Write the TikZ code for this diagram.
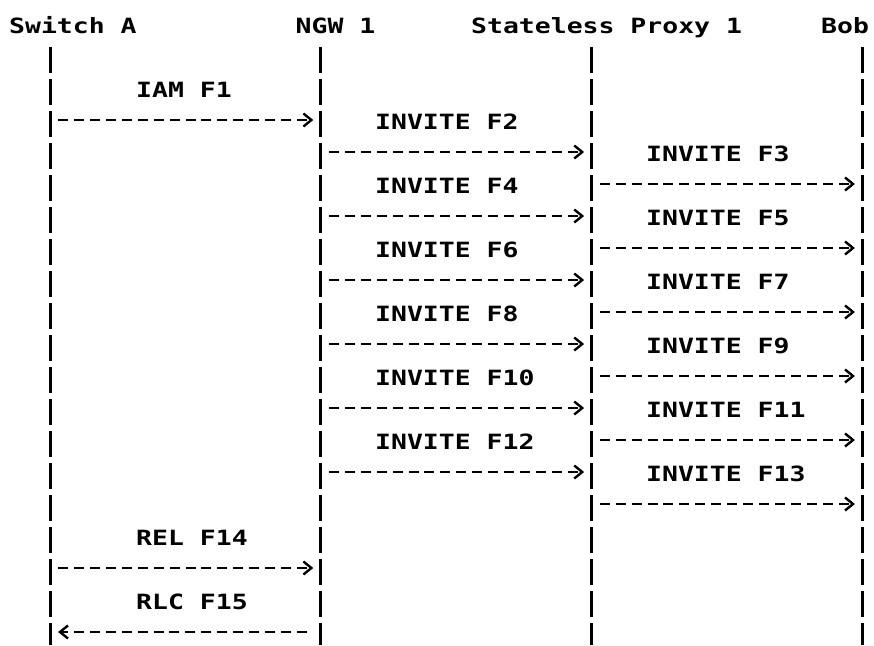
\documentclass[tikz,border=0pt]{standalone}
\usepackage{fontspec}
\usetikzlibrary{arrows.meta}
\newfontfamily\flowfont[FakeStretch=1.26]{DejaVu Sans Mono}
\tikzset{
  txt/.style={anchor=base west, inner sep=0pt, font=\flowfont\bfseries\fontsize{21}{21}\selectfont},
  party/.style={txt}, lbl/.style={txt},
  life/.style={line width=3pt, dash pattern=on 26pt off 6pt},
  msg/.style={line width=2.4pt, dash pattern=on 10pt off 5.93pt, shorten <=8pt, shorten >=7.6pt,
    -{Straight Barb[length=8pt, width=13pt, line width=2.4pt]}},
  back/.style={msg, shorten <=14pt, shorten >=8pt},
}

\begin{document}
\begin{tikzpicture}[x=1pt, y=-1pt]
    \useasboundingbox (0,0) rectangle (874,645);
    \node[party] (sw) at (9,33) {Switch A};
    \node[party] (ngw) at (295.5,33) {NGW 1};
    \node[party] (prx) at (471,33) {Stateless Proxy 1};
    \node[party] (bob) at (821,33) {Bob};
    \coordinate (swT) at (50.1,47);
    \coordinate (swB) at (50.1,645);
    \coordinate (ngwT) at (320.9,47);
    \coordinate (ngwB) at (320.9,645);
    \coordinate (prxT) at (591.7,47);
    \coordinate (prxB) at (591.7,645);
    \coordinate (bobT) at (862.5,47);
    \coordinate (bobB) at (862.5,645);
    \draw[life] (swT) -- (swB);
    \draw[life] (ngwT) -- (ngwB);
    \draw[life] (prxT) -- (prxB);
    \draw[life] (bobT) -- (bobB);
    \coordinate (r3) at (0,120);
    \coordinate (r4) at (0,152);
    \coordinate (r5) at (0,184);
    \coordinate (r6) at (0,216);
    \coordinate (r7) at (0,248);
    \coordinate (r8) at (0,280);
    \coordinate (r9) at (0,312);
    \coordinate (r10) at (0,344);
    \coordinate (r11) at (0,376);
    \coordinate (r12) at (0,408);
    \coordinate (r13) at (0,440);
    \coordinate (r14) at (0,472);
    \coordinate (r15) at (0,504);
    \coordinate (r17) at (0,568);
    \coordinate (r19) at (0,632);
    \node[lbl] (f1) at (136,97) {IAM F1};
    \node[lbl] (f2) at (375,129) {INVITE F2};
    \node[lbl] (f3) at (646,161) {INVITE F3};
    \node[lbl] (f4) at (375,193) {INVITE F4};
    \node[lbl] (f5) at (646,225) {INVITE F5};
    \node[lbl] (f6) at (375,257) {INVITE F6};
    \node[lbl] (f7) at (646,289) {INVITE F7};
    \node[lbl] (f8) at (375,321) {INVITE F8};
    \node[lbl] (f9) at (646,353) {INVITE F9};
    \node[lbl] (f10) at (375,385) {INVITE F10};
    \node[lbl] (f11) at (646,417) {INVITE F11};
    \node[lbl] (f12) at (375,449) {INVITE F12};
    \node[lbl] (f13) at (646,481) {INVITE F13};
    \node[lbl] (f14) at (136,545) {REL F14};
    \node[lbl] (f15) at (136,609) {RLC F15};
    \draw[msg] (swT |- r3) -- (ngwT |- r3);
    \draw[msg] (ngwT |- r4) -- (prxT |- r4);
    \draw[msg] (prxT |- r5) -- (bobT |- r5);
    \draw[msg] (ngwT |- r6) -- (prxT |- r6);
    \draw[msg] (prxT |- r7) -- (bobT |- r7);
    \draw[msg] (ngwT |- r8) -- (prxT |- r8);
    \draw[msg] (prxT |- r9) -- (bobT |- r9);
    \draw[msg] (ngwT |- r10) -- (prxT |- r10);
    \draw[msg] (prxT |- r11) -- (bobT |- r11);
    \draw[msg] (ngwT |- r12) -- (prxT |- r12);
    \draw[msg] (prxT |- r13) -- (bobT |- r13);
    \draw[msg] (ngwT |- r14) -- (prxT |- r14);
    \draw[msg] (prxT |- r15) -- (bobT |- r15);
    \draw[msg] (swT |- r17) -- (ngwT |- r17);
    \draw[back] (ngwT |- r19) -- (swT |- r19);
\end{tikzpicture}
\end{document}
